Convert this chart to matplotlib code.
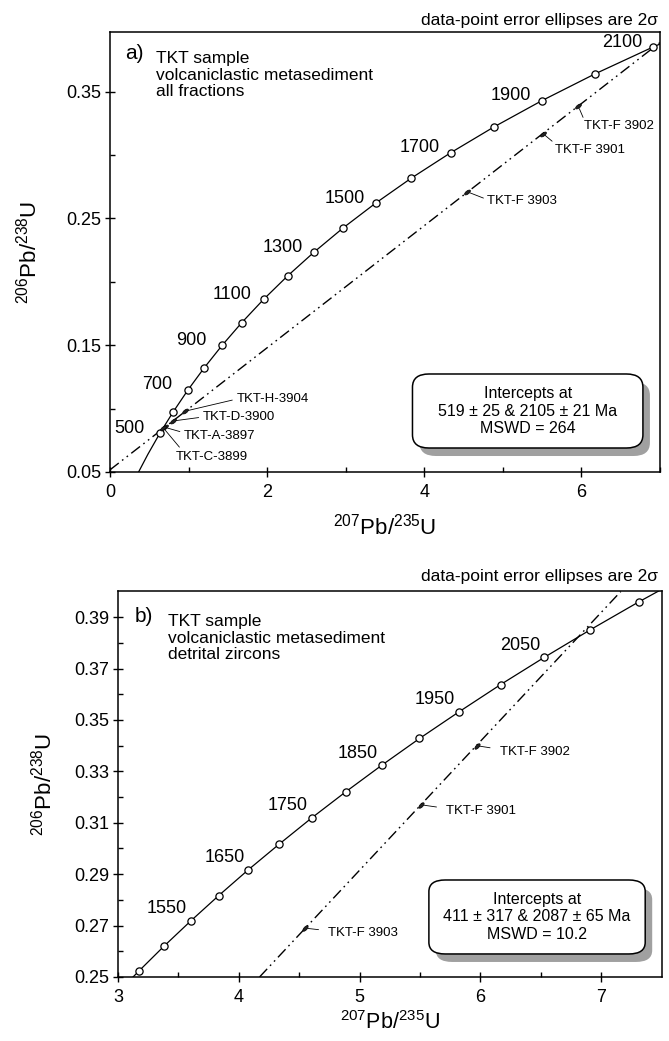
#!/usr/bin/env python3
"""U-Pb concordia diagrams for the TKT sample (all fractions / detrital zircons)."""

import matplotlib

matplotlib.use("Agg", force=True)

import matplotlib.pyplot as plt
import numpy as np
from matplotlib import transforms
from matplotlib.markers import MarkerStyle
from matplotlib.patches import FancyBboxPatch
from matplotlib.path import Path
from matplotlib.ticker import FormatStrFormatter, MultipleLocator


# concordia curve, panel a (ages in Ma, 207Pb/235U, 206Pb/238U)
AGES_A = [300, 400, 500, 600, 700, 800, 900, 1000, 1100, 1200, 1300,
          1400, 1500, 1600, 1700, 1800, 1900, 2000, 2100, 2200]
X_A = [0.3437, 0.4828, 0.6363, 0.8056, 0.9925, 1.1987, 1.4263, 1.6774,
       1.9545, 2.2603, 2.5977, 2.9701, 3.3810, 3.8344, 4.3348, 4.8869,
       5.4962, 6.1685, 6.9105, 7.7292]
Y_A = [0.0476, 0.0640, 0.0807, 0.0975, 0.1147, 0.1321, 0.1498, 0.1678,
       0.1861, 0.2046, 0.2234, 0.2426, 0.2620, 0.2817, 0.3017, 0.3221,
       0.3428, 0.3638, 0.3851, 0.4067]
MARK_RANGE_A = (500, 2100)
LABEL_AGES_A = [500, 700, 900, 1100, 1300, 1500, 1700, 1900, 2100]

# concordia curve, panel b
AGES_B = [1400, 1450, 1500, 1550, 1600, 1650, 1700, 1750, 1800, 1850,
          1900, 1950, 2000, 2050, 2100, 2150, 2200]
X_B = [2.9701, 3.1705, 3.3810, 3.6021, 3.8344, 4.0784, 4.3348, 4.6040,
       4.8869, 5.1841, 5.4962, 5.8241, 6.1685, 6.5304, 6.9105, 7.3097,
       7.7292]
Y_B = [0.2426, 0.2522, 0.2620, 0.2718, 0.2817, 0.2917, 0.3017, 0.3119,
       0.3221, 0.3324, 0.3428, 0.3532, 0.3638, 0.3744, 0.3851, 0.3959,
       0.4067]
MARK_RANGE_B = (1450, 2150)
LABEL_AGES_B = [1550, 1650, 1750, 1850, 1950, 2050]

# discordia intercepts (lower, upper)
INTERCEPTS_A = [(0.667, 0.0838), (6.949, 0.3862)]
INTERCEPTS_B = [(0.499, 0.0658), (6.810, 0.3823)]

# analysed fractions
NAMES_A = ["TKT-F 3902", "TKT-F 3901", "TKT-F 3903",
           "TKT-H-3904", "TKT-D-3900", "TKT-A-3897", "TKT-C-3899"]
FX_A = [5.96, 5.51, 4.55, 0.96, 0.80, 0.70, 0.68]
FY_A = [0.3385, 0.3169, 0.2709, 0.0980, 0.0902, 0.0852, 0.0847]

NAMES_B = ["TKT-F 3902", "TKT-F 3901", "TKT-F 3903"]
FX_B = [5.97, 5.51, 4.55]
FY_B = [0.340, 0.317, 0.269]

BOX_A = "Intercepts at\n519 \u00b1 25 & 2105 \u00b1 21 Ma\nMSWD = 264"
BOX_B = "Intercepts at\n411 \u00b1 317 & 2087 \u00b1 65 Ma\nMSWD = 10.2"
TITLE_A = "TKT sample\nvolcaniclastic metasediment\nall fractions"
TITLE_B = "TKT sample\nvolcaniclastic metasediment\ndetrital zircons"

plt.rcParams.update({
    "font.family": ["Liberation Sans", "DejaVu Sans"],
    "mathtext.fontset": "custom",
    "mathtext.rm": "Liberation Sans",
    "mathtext.it": "Liberation Sans:italic",
    "font.size": 12,
    "lines.scale_dashes": False,
})

DISCORDIA_DASHES = [8, 3, 1.2, 3, 1.2, 3]


def style_axes(ax):
    for side in ax.spines.values():
        side.set_linewidth(1.1)
    ax.tick_params(which="major", direction="inout", length=7, width=1.0,
                   labelsize=13, top=False, right=False)
    ax.tick_params(which="minor", direction="in", length=3.5, width=1.0,
                   top=False, right=False)
    ax.tick_params(axis="x", which="major", pad=5)
    ax.tick_params(axis="y", which="major", pad=3)


def ellipse_marker(ax, p0, p1):
    d0 = ax.transData.transform(p0)
    d1 = ax.transData.transform(p1)
    ang = np.degrees(np.arctan2(d1[1] - d0[1], d1[0] - d0[0]))
    tr = transforms.Affine2D().scale(1.0, 0.45).rotate_deg(ang)
    return MarkerStyle(Path.unit_circle(), transform=tr)


def intercept_box(ax, x0, y0, x1, y1, text):
    shadow_tr = transforms.offset_copy(ax.transAxes, fig=ax.figure, x=7, y=-8, units="dots")
    for tr, fc, ec in [(shadow_tr, "#a0a0a0", "none"), (ax.transAxes, "white", "black")]:
        ax.add_patch(FancyBboxPatch((x0, y0), x1 - x0, y1 - y0,
                                    boxstyle="round,pad=0,rounding_size=0.03",
                                    transform=tr, facecolor=fc, edgecolor=ec,
                                    linewidth=1.1, zorder=5))
    ax.text((x0 + x1) / 2, (y0 + y1) / 2, text, transform=ax.transAxes,
            ha="center", va="center", multialignment="center",
            fontsize=11.5, linespacing=1.2, zorder=6)


def draw_concordia(ax, ages, xs, ys, mark_range, label_ages, label_offset, label_size):
    ax.plot(xs, ys, "-", color="black", lw=0.9, zorder=3)
    mx = [x for a, x in zip(ages, xs) if mark_range[0] <= a <= mark_range[1]]
    my = [y for a, y in zip(ages, ys) if mark_range[0] <= a <= mark_range[1]]
    ax.plot(mx, my, "o", ms=5.2, mfc="white", mec="black", mew=0.9, zorder=4)
    for age in label_ages:
        i = ages.index(age)
        ax.annotate(str(age), xy=(xs[i], ys[i]), xytext=label_offset,
                    textcoords="offset pixels", ha="center", va="center",
                    fontsize=label_size)


def draw_discordia(ax, intercepts, names, fx, fy, leaders, label_size):
    line = ax.axline(intercepts[0], intercepts[1], color="black", lw=1.0, zorder=2)
    line.set_dashes(DISCORDIA_DASHES)
    marker = ellipse_marker(ax, intercepts[0], intercepts[1])
    ax.plot(fx, fy, linestyle="none", marker=marker, ms=5, mfc="#222222",
            mec="black", mew=0.5, zorder=4)
    for name, x, y in zip(names, fx, fy):
        dx, dy, relpos, shrink = leaders[name]
        ax.annotate(name, xy=(x, y), xytext=(dx, dy), textcoords="offset pixels",
                    ha="left", va="center", fontsize=label_size,
                    arrowprops=dict(arrowstyle="-", lw=0.6, color="black",
                                    relpos=relpos, shrinkA=shrink, shrinkB=2))


def panel_a(fig):
    ax = fig.add_axes([0.1644, 0.5466, 0.8221, 0.4227])
    ax.set_xlim(0, 7)
    ax.set_ylim(0.05, 0.397)
    ax.xaxis.set_major_locator(MultipleLocator(2))
    ax.xaxis.set_minor_locator(MultipleLocator(1))
    ax.set_yticks([0.05, 0.15, 0.25, 0.35])
    ax.set_yticks([0.10, 0.20, 0.30], minor=True)
    ax.yaxis.set_major_formatter(FormatStrFormatter("%.2f"))
    style_axes(ax)

    draw_concordia(ax, AGES_A, X_A, Y_A, MARK_RANGE_A, LABEL_AGES_A, (-31, 5), 13)
    leaders = {
        "TKT-F 3902": (6, -20, (0, 1), 0),
        "TKT-F 3901": (12, -16, (0, 1), 0),
        "TKT-F 3903": (20, -9, (0, 0.6), 1),
        "TKT-H-3904": (51, 12, (0, 0.5), 1),
        "TKT-D-3900": (30, 4, (0, 0.5), 1),
        "TKT-A-3897": (19, -9, (0, 0.8), 1),
        "TKT-C-3899": (12, -29, (0.1, 1), 1),
    }
    draw_discordia(ax, INTERCEPTS_A, NAMES_A, FX_A, FY_A, leaders, 9.5)

    ax.text(0.027, 0.952, "a)", transform=ax.transAxes, fontsize=15, va="center", ha="left")
    ax.text(0.0836, 0.902, TITLE_A, transform=ax.transAxes, fontsize=12.5,
            va="center", ha="left", linespacing=1.15)
    ax.text(0.996, 1.027, "data-point error ellipses are 2\u03c3", transform=ax.transAxes,
            fontsize=12.5, ha="right", va="center")
    intercept_box(ax, 0.550, 0.0545, 0.969, 0.2227, BOX_A)

    ax.set_xlabel(r"$^{207}$Pb/$^{235}$U", fontsize=16)
    ax.set_ylabel(r"$^{206}$Pb/$^{238}$U", fontsize=16)
    ax.xaxis.set_label_coords(0.5, -0.095)
    ax.yaxis.set_label_coords(-0.125, 0.5)


def panel_b(fig):
    ax = fig.add_axes([0.1764, 0.0615, 0.8124, 0.3703])
    ax.set_xlim(3, 7.5)
    ax.set_ylim(0.25, 0.40)
    ax.set_xticks([3, 4, 5, 6, 7])
    ax.set_xticks([3.5, 4.5, 5.5, 6.5], minor=True)
    ax.set_yticks([0.25, 0.27, 0.29, 0.31, 0.33, 0.35, 0.37, 0.39])
    ax.set_yticks([0.26, 0.28, 0.30, 0.32, 0.34, 0.36, 0.38], minor=True)
    ax.yaxis.set_major_formatter(FormatStrFormatter("%.2f"))
    style_axes(ax)

    draw_concordia(ax, AGES_B, X_B, Y_B, MARK_RANGE_B, LABEL_AGES_B, (-24, 12), 13)
    leaders = {
        "TKT-F 3902": (23, -6, (0, 0.7), 5),
        "TKT-F 3901": (25, -6, (0, 0.7), 5),
        "TKT-F 3903": (23, -5, (0, 0.7), 5),
    }
    draw_discordia(ax, INTERCEPTS_B, NAMES_B, FX_B, FY_B, leaders, 9.5)

    ax.text(0.031, 0.934, "b)", transform=ax.transAxes, fontsize=15, va="center", ha="left")
    ax.text(0.092, 0.879, TITLE_B, transform=ax.transAxes, fontsize=12.5,
            va="center", ha="left", linespacing=1.15)
    ax.text(0.9936, 1.040, "data-point error ellipses are 2\u03c3", transform=ax.transAxes,
            fontsize=12.5, ha="right", va="center")
    intercept_box(ax, 0.572, 0.0597, 0.970, 0.2516, BOX_B)

    ax.set_xlabel(r"$^{207}$Pb/$^{235}$U", fontsize=15.5)
    ax.set_ylabel(r"$^{206}$Pb/$^{238}$U", fontsize=16)
    ax.xaxis.set_label_coords(0.5, -0.088)
    ax.yaxis.set_label_coords(-0.114, 0.5)


def main():
    fig = plt.figure(figsize=(6.69, 10.41), dpi=100)
    panel_a(fig)
    panel_b(fig)
    fig.savefig("out.png", dpi=100)


if __name__ == "__main__":
    main()
